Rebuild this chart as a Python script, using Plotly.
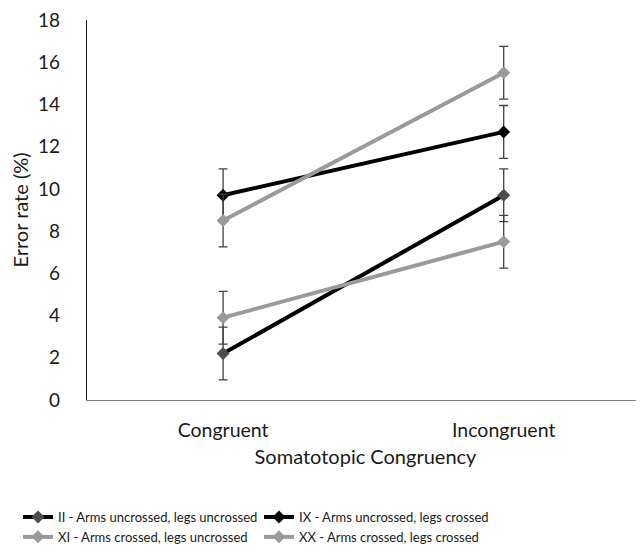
import plotly.graph_objects as go

categories = ["Congruent", "Incongruent"]
series_names = [
    "II - Arms uncrossed, legs uncrossed",
    "IX - Arms uncrossed, legs crossed",
    "XI - Arms crossed, legs uncrossed",
    "XX - Arms crossed, legs crossed",
]
ii_vals = [2.2, 9.7]
ix_vals = [9.7, 12.7]
xi_vals = [3.9, 7.5]
xx_vals = [8.5, 15.5]
ii_err = [1.25, 1.25]
ix_err = [1.25, 1.25]
xi_err = [1.25, 1.25]
xx_err = [1.25, 1.25]
y_ticks = [0, 2, 4, 6, 8, 10, 12, 14, 16, 18]

line_colors = ["#000000", "#000000", "#9a9a9a", "#9a9a9a"]
marker_colors = ["#4d4d4d", "#000000", "#9a9a9a", "#9a9a9a"]
values = [ii_vals, ix_vals, xi_vals, xx_vals]
errors = [ii_err, ix_err, xi_err, xx_err]

font_family = "Lato, Open Sans, sans-serif"

fig = go.Figure()
for name, v, e, lc, mc in zip(series_names, values, errors, line_colors, marker_colors):
    fig.add_trace(go.Scatter(
        x=categories, y=v, name=name, mode="lines+markers",
        line=dict(color=lc, width=4),
        marker=dict(symbol="diamond", size=10, color=mc),
        error_y=dict(type="data", array=e, visible=True, color="#404040",
                     thickness=1.3, width=4.5),
    ))

fig.update_layout(
    width=636, height=548,
    paper_bgcolor="white", plot_bgcolor="white",
    margin=dict(l=79, r=0, t=12, b=156, autoexpand=False),
    font=dict(family=font_family, color="#1a1a1a", size=19),
    showlegend=True,
    legend=dict(
        orientation="h", xref="container", yref="container",
        x=0.0157, xanchor="left", y=0.0985, yanchor="top",
        font=dict(size=13, family=font_family),
        entrywidth=196, entrywidthmode="pixels",
        tracegroupgap=0,
    ),
)
fig.update_xaxes(
    type="category", range=[-0.485, 1.5], automargin=False,
    showline=True, linecolor="#7f7f7f", linewidth=1.3,
    showgrid=False, ticks="", zeroline=False,
    ticklabelstandoff=12,
    title=dict(text="Somatotopic Congruency", font=dict(size=20), standoff=10),
    tickfont=dict(size=19.5),
)
fig.update_yaxes(
    range=[0, 18.0001], tickvals=y_ticks, automargin=False,
    showline=True, linecolor="#1a1a1a", linewidth=1.3,
    showgrid=False, zeroline=False, ticks="",
    ticklabelstandoff=22, ticklabeloverflow="allow",
    title=dict(text="Error rate (%)", font=dict(size=20), standoff=8),
    tickfont=dict(size=19),
)

fig.write_html("out.html")
